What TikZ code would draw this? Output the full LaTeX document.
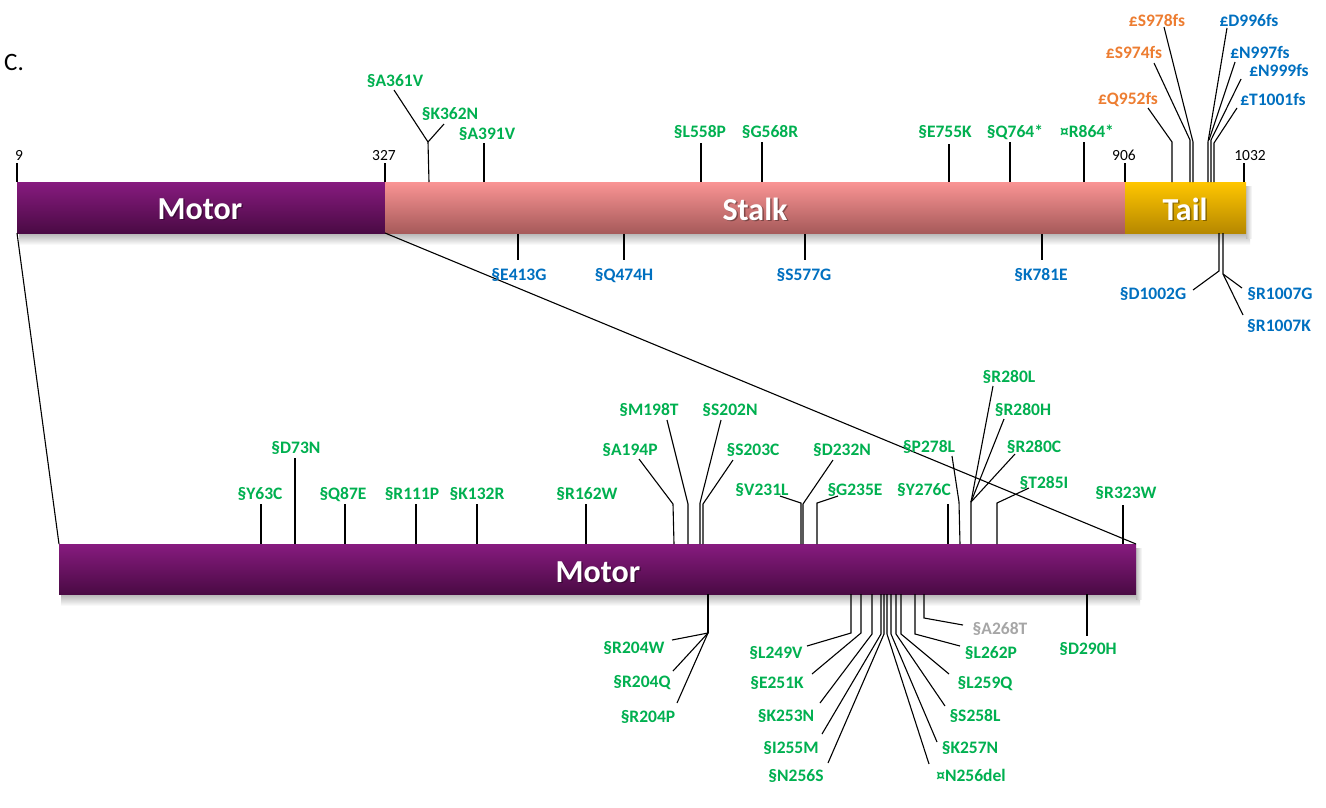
\documentclass[tikz,border=0pt]{standalone}
\usepackage{fontspec}
\setmainfont{Carlito}
\definecolor{mgreen}{HTML}{00B050}
\definecolor{mblue}{HTML}{0070C0}
\definecolor{morange}{HTML}{ED7D31}
\definecolor{mgrey}{HTML}{A6A6A6}
\definecolor{motTop}{HTML}{871B7F}
\definecolor{motBot}{HTML}{4A0A44}
\definecolor{stTop}{HTML}{FA9494}
\definecolor{stBot}{HTML}{A65A5A}
\definecolor{taTop}{HTML}{FFC600}
\definecolor{taBot}{HTML}{B68800}
\tikzset{
  lab/.style={font=\fontsize{17.5}{20}\selectfont\bfseries, inner sep=0pt, anchor=base},
  gl/.style={lab, text=mgreen},
  bl/.style={lab, text=mblue},
  ol/.style={lab, text=morange},
  yl/.style={lab, text=mgrey},
  num/.style={font=\fontsize{15.5}{18}\selectfont, inner sep=0pt, anchor=base},
  ln/.style={line width=1.1pt, black},
  zl/.style={line width=1.1pt, black},
  dom/.style={font=\fontsize{32}{36}\selectfont\bfseries, text=white, inner sep=0pt},
  domsh/.style={font=\fontsize{32}{36}\selectfont\bfseries, text=black, opacity=0.35, inner sep=0pt},
  shadow/.style={top color=black!30, bottom color=white}
}
\begin{document}
\begin{tikzpicture}[x=1pt,y=-1pt]
\useasboundingbox (0,0) rectangle (1326,807);
\fill[white] (0,0) rectangle (1326,807);

% ---- shadows ----
\shade[shadow] (19,233) rectangle (1250,245);
\shade[left color=black!25, right color=white] (1246,186) rectangle (1252,238);
\shade[shadow] (61,594) rectangle (1140,606);
\shade[left color=black!25, right color=white] (1136,548) rectangle (1142,599);

% ---- top bar ----
\fill[top color=motTop, bottom color=motBot] (17,182) rectangle (385,233);
\fill[top color=stTop, bottom color=stBot] (385,182) rectangle (1125,233);
\fill[top color=taTop, bottom color=taBot] (1125,182) rectangle (1246,233);

\node[domsh] (m1s) at (201.5,210.5) {Motor};
\node[dom] (m1) at (200,209) {Motor};
\node[domsh] (sts) at (756.5,210.5) {Stalk};
\node[dom] (st) at (755,209) {Stalk};
\node[domsh] (tas) at (1186.5,210.5) {Tail};
\node[dom] (ta) at (1185,209) {Tail};

% ---- bottom bar ----
\fill[top color=motTop, bottom color=motBot] (59,544) rectangle (1136,594);
\node[domsh] (m2s) at (599.5,573.5) {Motor};
\node[dom] (m2) at (598,572) {Motor};

% zoom lines
\draw[zl] (17,233) -- (59,544);
\draw[zl] (385,233) -- (1136,544);

% panel label and numbers
\node[font=\fontsize{25}{28}\selectfont, inner sep=0pt, anchor=base west] (C) at (4,70) {C.};
\node[num] (n9) at (19,160) {9};
\node[num] (n327) at (384,160) {327};
\node[num] (n906) at (1124,160) {906};
\node[num] (n1032) at (1250,160) {1032};
\draw[ln] (17,163) -- (17,182);
\draw[ln] (385,163) -- (385,182);
\draw[ln] (1125,163) -- (1125,182);
\draw[ln] (1244,163) -- (1244,182);

% ---- stalk, above ----
\node[gl] (a361v) at (395,86) {§A361V};
\node[gl] (k362n) at (450,119) {§K362N};
\node[gl] (a391v) at (487,139) {§A391V};
\node[gl] (l558p) at (700,137) {§L558P};
\node[gl] (g568r) at (770,137) {§G568R};
\node[gl] (e755k) at (945,137) {§E755K};
\node[gl] (q764) at (1015,137) {§Q764*};
\node[gl] (r864) at (1087,137) {¤R864*};
\draw[ln] (394,90) -- (428,142) -- (429,182);
\draw[ln] (444,124) -- (428,142);
\draw[ln] (484,143) -- (484,182);
\draw[ln] (701,143) -- (701,182);
\draw[ln] (762,142) -- (762,182);
\draw[ln] (949,144) -- (949,182);
\draw[ln] (1010,142) -- (1010,182);
\draw[ln] (1084,142) -- (1084,182);

% ---- tail, above ----
\node[ol] (s978) at (1157,26) {£S978fs};
\node[ol] (s974) at (1134,58) {£S974fs};
\node[ol] (q952) at (1128,104) {£Q952fs};
\node[bl] (d996) at (1249,26) {£D996fs};
\node[bl] (n997) at (1260,58) {£N997fs};
\node[bl] (n999) at (1279,76) {£N999fs};
\node[bl] (t1001) at (1273,105) {£T1001fs};
\draw[ln] (1164,27) -- (1193,142) -- (1193,182);
\draw[ln] (1154,63) -- (1190,140) -- (1190,182);
\draw[ln] (1148,108) -- (1172,142) -- (1172,182);
\draw[ln] (1227,28) -- (1208,142) -- (1208,182);
\draw[ln] (1235,62) -- (1209,140);
\draw[ln] (1241,79) -- (1211,140) -- (1211,182);
\draw[ln] (1237,108) -- (1214,143) -- (1214,182);

% ---- tail, below ----
\node[bl] (d1002g) at (1153,299) {§D1002G};
\node[bl] (r1007g) at (1280,299) {§R1007G};
\node[bl] (r1007k) at (1279,331) {§R1007K};
\draw[ln] (1219,233) -- (1219,271) -- (1193,290);
\draw[ln] (1223,233) -- (1223,274) -- (1242,288);
\draw[ln] (1223,274) -- (1243,315);

% ---- stalk, below ----
\node[bl] (e413g) at (519,280) {§E413G};
\node[bl] (q474h) at (624,280) {§Q474H};
\node[bl] (s577g) at (804,280) {§S577G};
\node[bl] (k781e) at (1041,280) {§K781E};
\draw[ln] (518,234) -- (518,260);
\draw[ln] (624,234) -- (624,260);
\draw[ln] (805,234) -- (805,260);
\draw[ln] (1042,234) -- (1042,260);

% ---- motor detail, above ----
\node[gl] (y63c) at (260,499) {§Y63C};
\node[gl] (d73n) at (296,453) {§D73N};
\node[gl] (q87e) at (343,499) {§Q87E};
\node[gl] (r111p) at (412,499) {§R111P};
\node[gl] (k132r) at (477,499) {§K132R};
\node[gl] (r162w) at (587,499) {§R162W};
\node[gl] (a194p) at (630,455) {§A194P};
\node[gl] (m198t) at (649,415) {§M198T};
\node[gl] (s202n) at (730,415) {§S202N};
\node[gl] (s203c) at (753,455) {§S203C};
\node[gl] (v231l) at (762,495) {§V231L};
\node[gl] (d232n) at (842,455) {§D232N};
\node[gl] (g235e) at (855,495) {§G235E};
\node[gl] (y276c) at (924,495) {§Y276C};
\node[gl] (p278l) at (929,452) {§P278L};
\node[gl] (r280l) at (1009,382) {§R280L};
\node[gl] (r280h) at (1023,415) {§R280H};
\node[gl] (r280c) at (1034,452) {§R280C};
\node[gl] (t285i) at (1044,488) {§T285I};
\node[gl] (r323w) at (1126,498) {§R323W};
\draw[ln] (261,504) -- (261,544);
\draw[ln] (295,458) -- (295,544);
\draw[ln] (345,504) -- (345,544);
\draw[ln] (416,504) -- (416,544);
\draw[ln] (477,504) -- (477,544);
\draw[ln] (586,504) -- (586,544);
\draw[ln] (639,459) -- (673,504) -- (674,544);
\draw[ln] (667,420) -- (688,504) -- (688,544);
\draw[ln] (721,420) -- (700,503) -- (700,544);
\draw[ln] (733,460) -- (703,504) -- (703,544);
\draw[ln] (780,496) -- (801,503) -- (801,544);
\draw[ln] (833,460) -- (803,504) -- (803,544);
\draw[ln] (838,496) -- (817,503) -- (817,544);
\draw[ln] (948,504) -- (948,544);
\draw[ln] (952,456) -- (959,502) -- (960,544);
\draw[ln] (993,386) -- (971,502);
\draw[ln] (1004,419) -- (971,502);
\draw[ln] (1015,454) -- (971,502) -- (971,544);
\draw[ln] (1029,488) -- (997,503) -- (997,544);
\draw[ln] (1123,505) -- (1123,544);

% ---- motor detail, below ----
\node[gl] (r204w) at (634,653) {§R204W};
\node[gl] (r204q) at (642,687) {§R204Q};
\node[gl] (r204p) at (648,722) {§R204P};
\draw[ln] (708,594) -- (708,633);
\draw[ln] (672,640) -- (708,633);
\draw[ln] (673,671) -- (708,633);
\draw[ln] (677,703) -- (708,633);

\node[gl] (l249v) at (776,658) {§L249V};
\node[gl] (e251k) at (777,688) {§E251K};
\node[gl] (k253n) at (786,721) {§K253N};
\node[gl] (i255m) at (791,753) {§I255M};
\node[gl] (n256s) at (796,781) {§N256S};
\node[gl] (n256del) at (971,781) {¤N256del};
\node[gl] (k257n) at (970,753) {§K257N};
\node[gl] (s258l) at (975,721) {§S258L};
\node[gl] (l259q) at (985,688) {§L259Q};
\node[gl] (l262p) at (991,658) {§L262P};
\node[yl] (a268t) at (1000,634) {§A268T};
\node[gl] (d290h) at (1088,654) {§D290H};
\draw[ln] (807,646) -- (851,633) -- (851,594);
\draw[ln] (812,674) -- (861,633) -- (861,594);
\draw[ln] (820,703) -- (872,634) -- (872,594);
\draw[ln] (822,734) -- (881,634) -- (881,594);
\draw[ln] (828,763) -- (884,634) -- (884,594);
\draw[ln] (929,764) -- (887,634) -- (887,594);
\draw[ln] (937,742) -- (891,634) -- (891,594);
\draw[ln] (945,706) -- (896,634) -- (896,594);
\draw[ln] (949,674) -- (901,634) -- (901,594);
\draw[ln] (960,646) -- (915,634) -- (915,594);
\draw[ln] (963,625) -- (924,618) -- (924,594);
\draw[ln] (1087,594) -- (1087,636);
\end{tikzpicture}
\end{document}
